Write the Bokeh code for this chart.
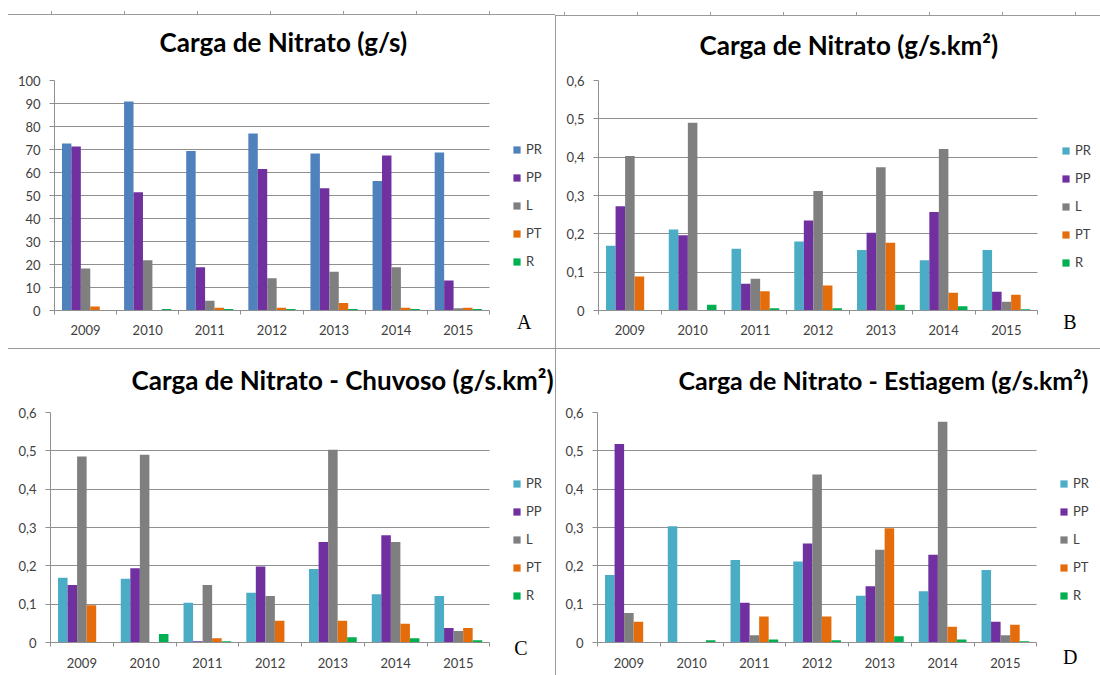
from bokeh.plotting import figure
from bokeh.models import (ColumnDataSource, FactorRange, Range1d, FixedTicker, LinearAxis,
                          CategoricalAxis, Legend, LegendItem, Title, CustomJSTickFormatter)
from bokeh.transform import dodge
from bokeh.layouts import column, row
from bokeh.embed import file_html
from bokeh.resources import INLINE

years = ["2009", "2010", "2011", "2012", "2013", "2014", "2015"]
series = ["PR", "PP", "L", "PT", "R"]

# Panel A - Carga de Nitrato (g/s)
a_pr = [72.6, 90.9, 69.4, 77.0, 68.3, 56.3, 68.7]
a_pp = [71.3, 51.4, 18.8, 61.5, 53.1, 67.4, 13.0]
a_l = [18.3, 21.8, 4.2, 14.0, 16.9, 18.8, 1.0]
a_pt = [1.7, 0.0, 1.2, 1.2, 3.3, 1.2, 1.2]
a_r = [0.0, 0.6, 0.6, 0.6, 0.6, 0.6, 0.6]

# Panel B - Carga de Nitrato (g/s.km2)
b_pr = [0.169, 0.211, 0.161, 0.180, 0.158, 0.131, 0.158]
b_pp = [0.272, 0.196, 0.070, 0.235, 0.203, 0.257, 0.049]
b_l = [0.403, 0.490, 0.083, 0.312, 0.374, 0.421, 0.023]
b_pt = [0.089, 0.0, 0.050, 0.065, 0.177, 0.046, 0.041]
b_r = [0.0, 0.015, 0.006, 0.006, 0.015, 0.011, 0.003]

# Panel C - Chuvoso
c_pr = [0.169, 0.166, 0.104, 0.130, 0.192, 0.126, 0.121]
c_pp = [0.150, 0.194, 0.003, 0.198, 0.262, 0.280, 0.038]
c_l = [0.485, 0.490, 0.150, 0.121, 0.503, 0.262, 0.030]
c_pt = [0.097, 0.0, 0.011, 0.057, 0.057, 0.049, 0.038]
c_r = [0.0, 0.022, 0.003, 0.0, 0.014, 0.011, 0.006]

# Panel D - Estiagem
d_pr = [0.176, 0.303, 0.215, 0.211, 0.122, 0.134, 0.189]
d_pp = [0.518, 0.0, 0.104, 0.258, 0.147, 0.229, 0.054]
d_l = [0.077, 0.0, 0.019, 0.438, 0.242, 0.576, 0.019]
d_pt = [0.054, 0.0, 0.068, 0.068, 0.298, 0.041, 0.046]
d_r = [0.0, 0.006, 0.008, 0.006, 0.016, 0.008, 0.003]

ticks_a = [0, 10, 20, 30, 40, 50, 60, 70, 80, 90, 100]
ticks_b = [0, 0.1, 0.2, 0.3, 0.4, 0.5, 0.6]

colors_a = ["#4F81BD", "#7030A0", "#7F7F7F", "#E46C0A", "#00B050"]
colors_b = ["#4BACC6", "#7030A0", "#7F7F7F", "#E46C0A", "#00B050"]

GRID = "#8f8f8f"
DIV = "#9a9a9a"
TXT = "#404040"
FONT = "Lato"
PAD = " "  # empty slot right of the years, holds the legend


def make_panel(title, title_size, vals, colors, ticks, origin, size, frame, title_left,
               title_so, title_va, letter, letter_c, letter_so, legend_left, legend_first,
               bg, lab_standoff, decimal):
    ox, oy = origin
    w, h = size
    L, R, T, B = frame
    n_cat = len(years)
    fw = int(round((n_cat + 1) * (R - L) / n_cat))  # frame incl. the empty slot
    ymax = ticks[-1]
    p = figure(width=w, height=h, x_range=FactorRange(*(years + [PAD])),
               y_range=Range1d(0, ymax),
               output_backend="svg", toolbar_location=None, x_axis_location=None,
               min_border_left=L - ox, min_border_right=w - (L - ox) - fw,
               min_border_top=T - oy, min_border_bottom=oy + h - B,
               background_fill_color=None, border_fill_color=None,
               outline_line_color=None)
    p.styles = {"background": bg}
    RE = L + fw

    data = {"year": years}
    for s, v in zip(series, vals):
        data[s] = v
    src = ColumnDataSource(data)
    bw = 0.152
    rends = []
    for i, (s, c) in enumerate(zip(series, colors)):
        r = p.vbar(x=dodge("year", (i - 2) * bw, range=p.x_range), top=s, width=bw,
                   source=src, fill_color=c, line_color=None)
        rends.append(r)

    # y axis
    yax = p.yaxis[0]
    yax.ticker = FixedTicker(ticks=ticks)
    if decimal:
        yax.formatter = CustomJSTickFormatter(
            code="return tick == 0 ? '0' : tick.toFixed(1).replace('.', ',');")
    yax.axis_line_color = GRID
    yax.major_tick_line_color = GRID
    yax.major_tick_out = 5
    yax.major_tick_in = 0
    yax.minor_tick_line_color = None
    yax.major_label_standoff = 9
    yax.major_label_text_font = FONT
    yax.major_label_text_font_size = "13px"
    yax.major_label_text_color = TXT
    for g in p.grid:
        if g.dimension == 0:
            g.visible = False
        else:
            g.grid_line_color = GRID
            g.ticker = FixedTicker(ticks=ticks)
            if "cross_bounds" in g.properties():
                g.cross_bounds = (0, n_cat)
            else:
                g.visible = False
                p.segment(x0=0, x1=n_cat, y0=ticks[1:], y1=ticks[1:], line_color=GRID)

    # x axis: boundary ticks (between categories), then labels
    tax = LinearAxis(ticker=FixedTicker(ticks=list(range(n_cat + 1))), bounds=(0, n_cat),
                     major_tick_out=4, major_tick_in=0, minor_tick_out=0, minor_tick_in=0,
                     major_label_text_font_size="1px", major_label_text_alpha=0,
                     major_label_standoff=0, axis_line_color=GRID,
                     major_tick_line_color=GRID, minor_tick_line_color=None)
    p.add_layout(tax, "below")
    lax = CategoricalAxis(axis_line_color=None, major_tick_line_color=None,
                          major_tick_out=0, major_tick_in=0,
                          major_label_standoff=lab_standoff, major_label_text_font=FONT,
                          major_label_text_font_size="13px", major_label_text_color=TXT)
    p.add_layout(lax, "below")

    # title
    p.title = Title(text=title, align="left", offset=title_left - L, standoff=title_so,
                    vertical_align=title_va, text_font=FONT, text_font_size=title_size,
                    text_font_style="bold", text_color="#000000")

    # legend (inside the empty slot)
    item_h, spacing = 20, 8
    n = len(series)
    leg_h = n * item_h + (n - 1) * spacing
    top = legend_first - item_h / 2
    bottom = top + leg_h
    legend = Legend(items=[LegendItem(label=s, renderers=[r]) for s, r in zip(series, rends)],
                    location=(legend_left - L, B - bottom), orientation="vertical",
                    padding=0, margin=0, border_line_color=None, background_fill_alpha=0,
                    glyph_width=9, glyph_height=9, label_height=item_h, label_width=20,
                    spacing=spacing, label_standoff=5, label_text_font=FONT,
                    label_text_font_size="13px", label_text_color=TXT)
    p.add_layout(legend)

    # panel letter
    lcx, lcy = letter_c
    p.add_layout(Title(text=letter, align="right", offset=RE - (lcx + 7), standoff=letter_so,
                       vertical_align="top", text_font="Liberation Serif",
                       text_font_size="20px", text_font_style="normal",
                       text_color="#000000"), "below")
    return p


bg_a = ("linear-gradient(to right, %s 1px, transparent 1px) 51px 11px / 73px 3px repeat-x, "
        "linear-gradient(%s, %s) 8px 14px / 100%% 1px no-repeat, #ffffff") % (DIV, DIV, DIV)
bg_b = ("linear-gradient(to right, %s 1px, transparent 1px) 9px 12px / 73px 3px repeat-x, "
        "linear-gradient(%s, %s) 0px 15px / 100%% 1px no-repeat, "
        "linear-gradient(%s, %s) 0px 15px / 1px 100%% no-repeat, #ffffff") % (DIV, DIV, DIV, DIV, DIV)
bg_c = ("linear-gradient(%s, %s) 8px 0px / 100%% 1px no-repeat, #ffffff") % (DIV, DIV)
bg_d = ("linear-gradient(%s, %s) 0px 0px / 100%% 1px no-repeat, "
        "linear-gradient(%s, %s) 0px 0px / 1px 100%% no-repeat, #ffffff") % (DIV, DIV, DIV, DIV)

pa = make_panel("Carga de Nitrato (g/s)", "26px", [a_pr, a_pp, a_l, a_pt, a_r], colors_a,
                ticks_a, (0, 0), (555, 348), (54, 489, 79, 310), 159, 45, "bottom",
                "A", (524, 322), -60, 512, 149, bg_a, 7, False)
pb = make_panel("Carga de Nitrato (g/s.km²)", "26px", [b_pr, b_pp, b_l, b_pt, b_r], colors_b,
                ticks_b, (555, 0), (545, 348), (598, 1037, 80, 310), 699, 39, "bottom",
                "B", (1069, 322), -60, 1061, 150, bg_b, 7, True)
pc = make_panel("Carga de Nitrato - Chuvoso  (g/s.km²)", "26px", [c_pr, c_pp, c_l, c_pt, c_r],
                colors_b, ticks_b, (0, 348), (555, 327), (50, 489, 412, 642), 131, 30, "top",
                "C", (520, 648), -74, 512, 483, bg_c, 8, True)
pd_ = make_panel("Carga de Nitrato - Estiagem (g/s.km²)", "25px", [d_pr, d_pp, d_l, d_pt, d_r],
                 colors_b, ticks_b, (555, 348), (545, 327), (597, 1036, 412, 642), 678, 31, "top",
                 "D", (1070, 657), -56, 1059, 483, bg_d, 8, True)

layout = column(row(pa, pb), row(pc, pd_))
open("out.html", "w").write(file_html(layout, INLINE))
